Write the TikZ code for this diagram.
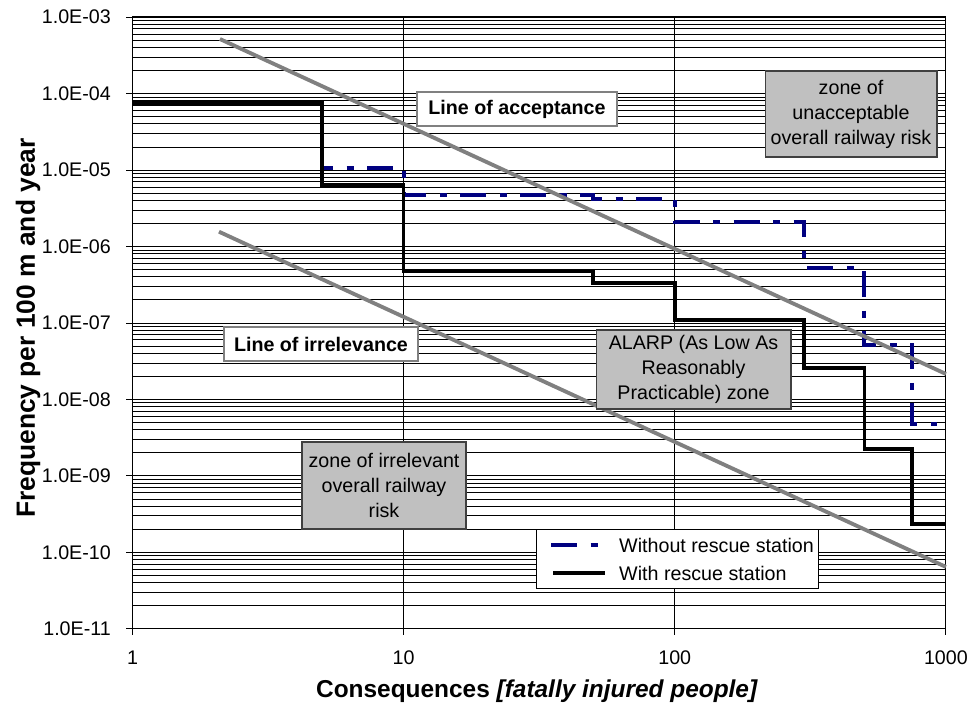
\documentclass[tikz,border=0pt]{standalone}
\usepackage{fontspec}
\setmainfont{Liberation Sans}
\definecolor{navyline}{RGB}{0,0,128}
\definecolor{limitgray}{RGB}{128,128,128}
\definecolor{zonefill}{RGB}{192,192,192}
\definecolor{zoneedge}{RGB}{64,64,64}
\tikzset{
  gridline/.style={black, line width=0.5pt},
  frameline/.style={black, line width=0.6pt},
  withoutline/.style={navyline, line width=2.2pt, dash pattern=on 0.52cm off 0.27cm on 0.14cm off 0.27cm},
  withline/.style={black, line width=2pt},
  limitline/.style={limitgray, line width=2.2pt},
  normtext/.style={font=\fontsize{11.2}{14.2}\selectfont},
  linelabel/.style={draw=limitgray, line width=1.6pt, fill=white, font=\bfseries\fontsize{11.2}{14.2}\selectfont, minimum height=0.68cm, inner sep=0pt},
  zonebox/.style={draw=zoneedge, line width=0.6pt, fill=zonefill, align=center, font=\fontsize{11.2}{14.2}\selectfont, inner sep=0pt},
  xtitletext/.style={font=\bfseries\fontsize{13.9}{16}\selectfont},
  ytitletext/.style={font=\bfseries\fontsize{15}{17}\selectfont},
}
\begin{document}
\begin{tikzpicture}[x=0.02cm,y=-0.02cm]
\useasboundingbox (0,0) rectangle (969,704);
\begin{scope}[shift={(2.65cm,-12.58cm)}, x=5.424cm, y=1.53cm]
  % minor horizontal gridlines
  \foreach \d in {0,...,7}{
    \foreach \m in {2,...,9}{
      \draw[gridline] (0,{\d+log10(\m)}) -- (3,{\d+log10(\m)});
    }
  }
  % major horizontal gridlines, ticks and labels
  \foreach \d/\e in {0/11,1/10,2/09,3/08,4/07,5/06,6/05,7/04,8/03}{
    \draw[gridline] ([xshift=-0.12cm]0,\d) -- (3,\d);
    \node[normtext, anchor=east] (ylab\d) at ([xshift=-0.31cm]0,\d) {1.0E-\e};
  }
  % vertical gridlines, ticks and labels
  \foreach \k/\t in {0/1,1/10,2/100,3/1000}{
    \draw[gridline] ([yshift=-0.12cm]\k,0) -- (\k,8);
    \node[normtext] (xlab\k) at ([yshift=-0.58cm]\k,0) {\t};
  }
  \draw[frameline] (0,0) rectangle (3,8);
  % without rescue station
  \draw[withoutline] (0,6.875) -- (0.69897,6.875) -- (0.69897,6.022) -- (1,6.022) -- (1,5.673)
    -- (1.69897,5.673) -- (1.69897,5.617) -- (2,5.617) -- (2,5.324) -- (2.47712,5.324)
    -- (2.47712,4.719) -- (2.69897,4.719) -- (2.69897,3.712) -- (2.87506,3.712)
    -- (2.87506,2.680) -- (2.967,2.680);
  % with rescue station
  \draw[withline] (0,6.875) -- (0.69897,6.875) -- (0.69897,5.804) -- (1,5.804) -- (1,4.68)
    -- (1.69897,4.68) -- (1.69897,4.523) -- (2,4.523) -- (2,4.039) -- (2.47712,4.039)
    -- (2.47712,3.408) -- (2.69897,3.408) -- (2.69897,2.353) -- (2.87506,2.353)
    -- (2.87506,1.373) -- (3,1.373);
  % limit lines
  \coordinate (accA) at (0.3226,7.712);
  \coordinate (accB) at (3,3.333);
  \coordinate (irrA) at (0.319,5.193);
  \coordinate (irrB) at (3,0.810);
  \draw[limitline] (accA) -- (accB);
  \draw[limitline] (irrA) -- (irrB);
\end{scope}
% labels on lines
\node[linelabel, minimum width=4cm] (acclabel) at (517,109) {Line of acceptance};
\node[linelabel, minimum width=3.88cm] (irrlabel) at (321,344) {Line of irrelevance};
% zone boxes
\node[zonebox, minimum width=3.44cm, minimum height=1.72cm] (zoneunacc) at (851,114) {zone of\\unacceptable\\overall railway risk};
\node[zonebox, minimum width=3.9cm, minimum height=1.58cm] (zonealarp) at (693.5,369.5) {ALARP (As Low As\\Reasonably\\Practicable) zone};
\node[zonebox, minimum width=3.28cm, minimum height=1.74cm] (zoneirr) at (384,485.5) {zone of irrelevant\\overall railway\\risk};
% legend
\node[draw=black, line width=0.6pt, fill=white, minimum width=5.63cm, minimum height=1.18cm, inner sep=0pt] (legend) at (677.5,558.8) {};
\coordinate (lgA1) at (551,545);
\coordinate (lgA2) at (602,545);
\coordinate (lgB1) at (553,573);
\coordinate (lgB2) at (605,573);
\draw[withoutline] (lgA1) -- (lgA2);
\draw[withline] (lgB1) -- (lgB2);
\node[normtext, anchor=west] (lgtextA) at (613,545) {Without rescue station};
\node[normtext, anchor=west] (lgtextB) at (613,573) {With rescue station};
% axis titles
\node[xtitletext] (xtitle) at (537,691) {Consequences \textit{[fatally injured people]}};
\node[ytitletext, rotate=90] (ytitle) at (28,328) {Frequency per 100 m and year};
\end{tikzpicture}
\end{document}
